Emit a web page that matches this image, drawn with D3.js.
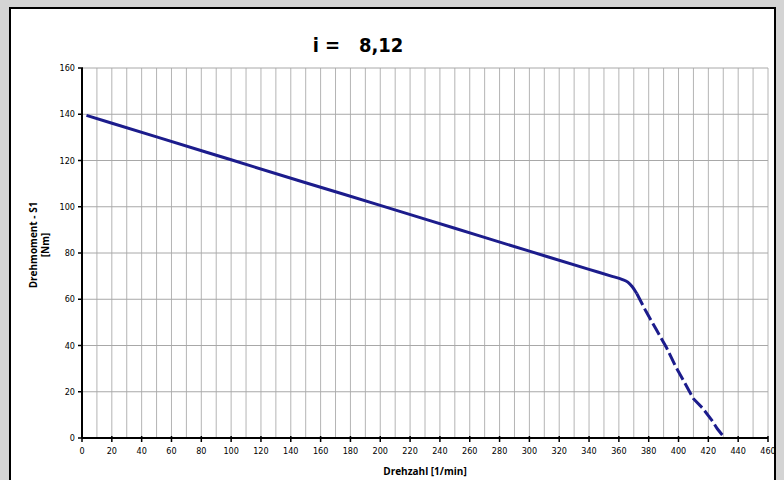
<!DOCTYPE html>
<html>
<head>
<meta charset="utf-8">
<script src="https://cdn.jsdelivr.net/npm/d3@7"></script>
<style>
  body { margin: 0; background: #d4d4d4; }
  svg { display: block; }
  .tick-label { font-family: "Liberation Sans Narrow", "DejaVu Sans Condensed", sans-serif; font-size: 9px; fill: #000; }
  .axis-title { font-family: "Open Sans", "DejaVu Sans", sans-serif; font-size: 10px; font-weight: bold; }
</style>
</head>
<body>
<div id="chart"></div>
<script>
// x ticks / y ticks
var xTicks = [0,20,40,60,80,100,120,140,160,180,200,220,240,260,280,300,320,340,360,380,400,420,440,460];
var yTicks = [0,20,40,60,80,100,120,140,160];

// torque curve, solid part
var solidRpm    = [3, 50, 100, 150, 200, 250, 300, 340, 356, 362, 366, 369, 372];
var solidTorque = [139.5, 130.2, 120.3, 110.4, 100.6, 90.7, 80.8, 72.9, 69.8, 68.6, 67.4, 65.4, 62.5];
// torque curve, dashed part
var dashRpm    = [372, 378, 385, 392, 398, 404, 410, 416, 422, 426, 431];
var dashTorque = [62.5, 55, 47, 39, 31, 24, 17, 13, 8, 4, 0];

var width = 784, height = 480;

var svg = d3.select("#chart").append("svg")
    .attr("width", width)
    .attr("height", height);

// white panel
svg.append("rect")
    .attr("x", 10).attr("y", 8)
    .attr("width", 765).attr("height", 490)
    .attr("fill", "#fff")
    .attr("stroke", "#000")
    .attr("stroke-width", 2);

var x = d3.scaleLinear().domain([0, 460]).range([82, 768]);
var y = d3.scaleLinear().domain([0, 160]).range([438, 68]);

// vertical grid every 10
var vGrid = d3.range(10, 461, 10);
svg.selectAll(".vgrid").data(vGrid).enter().append("line")
    .attr("x1", function(d){ return x(d); })
    .attr("x2", function(d){ return x(d); })
    .attr("y1", y(0)).attr("y2", y(160))
    .attr("stroke", "#b4b4b4")
    .attr("stroke-width", 1);

// horizontal grid
svg.selectAll(".hgrid").data(yTicks.slice(1)).enter().append("line")
    .attr("x1", x(0)).attr("x2", x(460))
    .attr("y1", function(d){ return y(d); })
    .attr("y2", function(d){ return y(d); })
    .attr("stroke", "#a8a8a8")
    .attr("stroke-width", 1);

// axes
svg.append("line")
    .attr("x1", x(0)).attr("x2", x(460))
    .attr("y1", y(0)).attr("y2", y(0))
    .attr("stroke", "#000").attr("stroke-width", 2);
svg.append("line")
    .attr("x1", x(0)).attr("x2", x(0))
    .attr("y1", y(0)).attr("y2", y(160))
    .attr("stroke", "#000").attr("stroke-width", 2);

// x ticks
svg.selectAll(".xtick").data(xTicks).enter().append("line")
    .attr("x1", function(d){ return x(d); })
    .attr("x2", function(d){ return x(d); })
    .attr("y1", y(0) - 2).attr("y2", y(0) + 4)
    .attr("stroke", "#000").attr("stroke-width", 1.5);
svg.selectAll(".xlab").data(xTicks).enter().append("text")
    .attr("class", "tick-label")
    .attr("x", function(d){ return x(d); })
    .attr("y", y(0) + 16)
    .attr("text-anchor", "middle")
    .text(function(d){ return d; });

// y ticks
svg.selectAll(".ytick").data(yTicks).enter().append("line")
    .attr("x1", x(0) - 4).attr("x2", x(0) + 1)
    .attr("y1", function(d){ return y(d); })
    .attr("y2", function(d){ return y(d); })
    .attr("stroke", "#000").attr("stroke-width", 1.5);
svg.selectAll(".ylab").data(yTicks).enter().append("text")
    .attr("class", "tick-label")
    .attr("x", x(0) - 7)
    .attr("y", function(d){ return y(d) + 3; })
    .attr("text-anchor", "end")
    .text(function(d){ return d; });

// curve
var line = d3.line()
    .x(function(d){ return x(d[0]); })
    .y(function(d){ return y(d[1]); })
    .curve(d3.curveMonotoneX);

svg.append("path")
    .datum(d3.zip(solidRpm, solidTorque))
    .attr("d", line)
    .attr("fill", "none")
    .attr("stroke", "#1c1c8c")
    .attr("stroke-width", 3);

svg.append("path")
    .datum(d3.zip(dashRpm, dashTorque))
    .attr("d", d3.line().x(function(d){ return x(d[0]); }).y(function(d){ return y(d[1]); }))
    .attr("fill", "none")
    .attr("stroke", "#1c1c8c")
    .attr("stroke-width", 3)
    .attr("stroke-dasharray", "13,4");

// title
svg.append("text")
    .attr("x", 358).attr("y", 52)
    .attr("text-anchor", "middle")
    .attr("font-family", "'Liberation Sans Narrow', 'DejaVu Sans Condensed', sans-serif")
    .attr("font-size", 20)
    .attr("font-weight", "bold")
    .attr("xml:space", "preserve")
    .text("i =   8,12");

// axis titles
svg.append("text")
    .attr("class", "axis-title")
    .attr("x", 425).attr("y", 475)
    .attr("text-anchor", "middle")
    .text("Drehzahl [1/min]");

svg.append("text")
    .attr("class", "axis-title")
    .attr("transform", "translate(37,245) rotate(-90)")
    .attr("text-anchor", "middle")
    .text("Drehmoment - S1");
svg.append("text")
    .attr("class", "axis-title")
    .attr("transform", "translate(49,245) rotate(-90)")
    .attr("text-anchor", "middle")
    .text("[Nm]");
</script>
</body>
</html>
